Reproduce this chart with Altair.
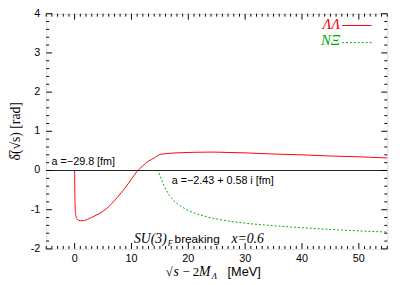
import altair as alt
import pandas as pd

# ---- data ----
red_x = [0, 0.02, 0.08, 0.2, 0.5, 1.0, 1.5, 2.5, 3.5, 5, 6, 7, 8, 9, 10, 11, 12, 13, 14, 15.0,
         16, 18, 21, 24, 27, 30, 35, 40, 45, 50, 55]
red_y = [0, -0.4, -0.9, -1.15, -1.25, -1.28, -1.28, -1.23, -1.16, -1.04, -0.92, -0.77, -0.6, -0.42,
         -0.22, -0.02, 0.12, 0.24, 0.32, 0.41, 0.43, 0.45, 0.465, 0.47, 0.46, 0.45, 0.42, 0.40, 0.37,
         0.35, 0.32]
green_x = [0, 14.7, 15.0, 15.5, 16, 16.7, 17.5, 18.4, 20, 21.3, 24, 27, 31, 36, 40, 44.4, 50, 55]
green_y = [0, 0, -0.12, -0.31, -0.47, -0.64, -0.78, -0.89, -1.02, -1.10, -1.21, -1.29, -1.36,
           -1.42, -1.46, -1.50, -1.54, -1.57]

x_major = [0, 10, 20, 30, 40, 50]
x_minor = [v for v in range(-5, 56) if v % 10 != 0]
y_major = [-2, -1, 0, 1, 2, 3, 4]
y_minor = [round(-2 + 0.2 * i, 1) for i in range(31) if i % 5 != 0]

W, H = 348, 240
SANS = "Liberation Sans"
SERIF = "Liberation Serif"
RED = "#ff0000"
GREEN = "#00a800"

xs = alt.Scale(domain=[-5, 55], nice=False, zero=False)
ys = alt.Scale(domain=[-2, 4], nice=False, zero=False)

red_df = pd.DataFrame({"x": red_x, "y": red_y})
green_df = pd.DataFrame({"x": green_x, "y": green_y})


def X(f="x"):
    return alt.X(f + ":Q", scale=xs, axis=None)


def Y(f="y"):
    return alt.Y(f + ":Q", scale=ys, axis=None)


red = alt.Chart(red_df).mark_line(color=RED, strokeWidth=1, interpolate="monotone").encode(
    x=X(), y=Y(), order=alt.Order("x:Q"))
green = alt.Chart(green_df).mark_line(color=GREEN, strokeWidth=1, strokeDash=[2, 2]).encode(
    x=X(), y=Y())
zero = alt.Chart(pd.DataFrame({"y": [0]})).mark_rule(color="#202020", strokeWidth=1).encode(y=Y())


# ticks (inward, mirrored)
def xticks(vals, y1, y2):
    return alt.Chart(pd.DataFrame({"x": vals})).mark_rule(color="black", strokeWidth=1).encode(
        x=X(), y=alt.value(y1), y2=alt.value(y2))


def yticks(vals, x1, x2):
    return alt.Chart(pd.DataFrame({"y": vals})).mark_rule(color="black", strokeWidth=1).encode(
        y=Y(), x=alt.value(x1), x2=alt.value(x2))


ticks = [
    xticks(x_major, H, H - 6), xticks(x_major, 0, 6),
    xticks(x_minor, H, H - 3), xticks(x_minor, 0, 3),
    yticks(y_major, 0, 6), yticks(y_major, W, W - 6),
    yticks(y_minor, 0, 3), yticks(y_minor, W, W - 3),
]

# tick labels, one layer per label, placed through the scales
anchor = pd.DataFrame({"a": [0]})
xlabs = [
    alt.Chart(anchor).mark_text(text=str(v), font=SANS, fontSize=11, color="black",
                                align="center", baseline="middle").encode(
        x=alt.X(datum=v, scale=xs, axis=None), y=alt.value(H + 10))
    for v in x_major
]
ylabs = [
    alt.Chart(anchor).mark_text(text=str(v), font=SANS, fontSize=11, color="black",
                                align="right", baseline="middle").encode(
        y=alt.Y(datum=v, scale=ys, axis=None), x=alt.value(-6))
    for v in y_major
]


def txt(s, x, y, font=SANS, size=11, color="black", style="normal", align="left", angle=0):
    kw = dict(text=s, font=font, fontSize=size, color=color, fontStyle=style,
              align=align, baseline="alphabetic")
    if angle:
        kw["angle"] = angle
        kw["baseline"] = "middle"
        kw["align"] = "center"
    return alt.Chart(anchor).mark_text(**kw).encode(x=alt.value(x), y=alt.value(y))


# legend
legend = [
    txt("ΛΛ", 300, 16, font=SERIF, size=15, color=RED, style="italic", align="right"),
    txt("NΞ", 300, 32, font=SERIF, size=15, color=GREEN, style="italic", align="right"),
    alt.Chart(anchor).mark_rule(color=RED, strokeWidth=1).encode(
        x=alt.value(302), x2=alt.value(332), y=alt.value(12)),
    alt.Chart(anchor).mark_rule(color=GREEN, strokeWidth=1, strokeDash=[2, 2]).encode(
        x=alt.value(302), x2=alt.value(332), y=alt.value(29.5)),
]

annots = [
    txt("a =−29.8 [fm]", 5.5, 154),
    txt("a =−2.43 + 0.58 i [fm]", 128, 174),
    txt("SU(3)", 123, 234, font=SERIF, size=14, style="italic", align="right"),
    txt("F", 124, 237, font=SERIF, size=8, style="italic"),
    txt("breaking", 131, 234, size=12),
    txt("x=0.6", 189, 234, font=SERIF, size=14, style="italic"),
    # x title
    txt("√", 122, 268, font=SERIF, size=13),
    txt("s", 130, 268, font=SERIF, size=14, style="italic"),
    txt("− 2", 139, 268, font=SERIF, size=13),
    txt("M", 156, 268, font=SERIF, size=14, style="italic"),
    txt("Λ", 169, 271, font=SERIF, size=9, style="italic"),
    txt("[MeV]", 185, 268, size=13),
    # y title
    txt("δ\u0305(√s)   [rad]", -31, 120, font=SERIF, size=14, angle=270),
]

chart = alt.layer(red, green, zero, *ticks, *xlabs, *ylabs, *legend, *annots).properties(
    width=W, height=H,
    autosize=alt.AutoSizeParams(type="none"),
    padding={"left": 39, "top": 3, "right": 12, "bottom": 34},
).configure_view(stroke="black", strokeWidth=1).configure(background="white")

chart.save("out.html", embed_options={"renderer": "svg", "actions": False})
